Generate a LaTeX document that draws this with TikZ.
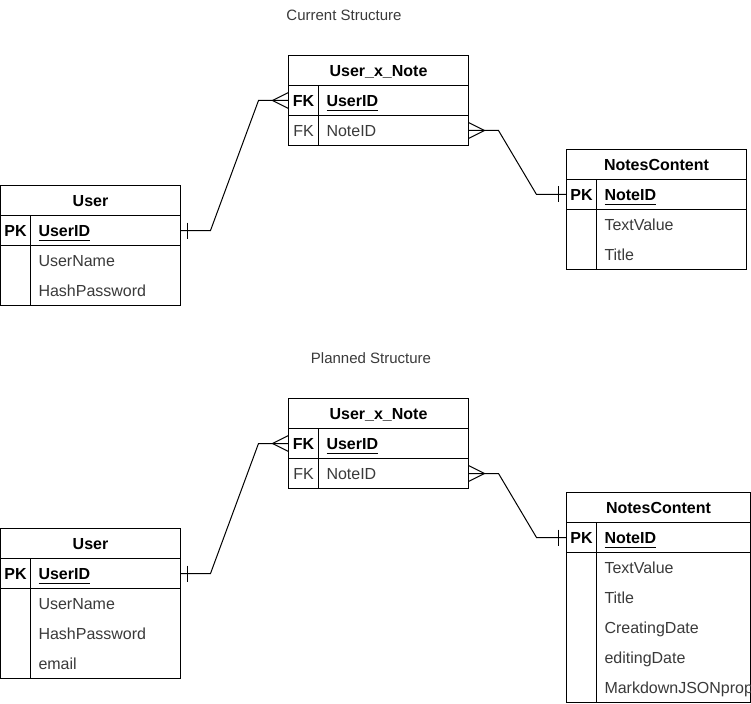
\documentclass[tikz,border=0pt]{standalone}
\usepackage{fontspec}
\setmainfont{Liberation Sans}
\usetikzlibrary{calc}
\definecolor{fieldtxt}{HTML}{3A3A3A}
% underlined key column name
\newcommand{\undl}[1]{\setbox0\hbox{#1}\rlap{\rule[-4.5pt]{\wd0}{1pt}}\box0}

\begin{document}
\begin{tikzpicture}[x=1pt, y=-1pt, line width=1pt,
  every node/.style={inner sep=0pt, outer sep=0pt,
    font=\fontsize{16}{19}\selectfont, text height=11.5pt, text depth=0pt},
  cell/.style={draw, rectangle, anchor=north west, minimum height=30pt, minimum width=180pt},
  hdr/.style={cell, font=\fontsize{16}{19}\selectfont\bfseries},
  keytag/.style={anchor=base, font=\fontsize{16}{19}\selectfont\bfseries},
  fktag/.style={anchor=base, text=fieldtxt},
  keyname/.style={anchor=base west, font=\fontsize{16}{19}\selectfont\bfseries},
  field/.style={anchor=base west, text=fieldtxt},
  heading/.style={anchor=base, text=fieldtxt, font=\fontsize{15}{18}\selectfont},
  onebarout/.pic={\draw (7,-8) -- (7,8);},
  onebarin/.pic={\draw (-8,-8) -- (-8,8);},
  crowin/.pic={\draw (0,-8) -- (-16,0) -- (0,8);},
  crowout/.pic={\draw (0,-8) -- (16,0) -- (0,8);}
]
\fill[white] (0,0) rectangle (751,703);
\useasboundingbox (0,0) rectangle (751,703);

%%%%%%%%%%%%%%%% Current structure %%%%%%%%%%%%%%%%
\node[heading] (t1) at (344,21) {Current Structure};

% User
\node[hdr] (u1h) at (0.5,185.5) {User};
\node[cell] (u1k) at (0.5,215.5) {};
\node[cell, minimum height=60pt] (u1b) at (0.5,245.5) {};
\draw ($(u1k.north west)+(30,0)$) -- ($(u1b.south west)+(30,0)$);
\node[keytag] (u1kt) at (15.5,236.5) {PK};
\node[keyname] (u1kn) at (38.5,236.5) {\undl{UserID}};
\node[field] (u1f1) at (38.5,266.5) {UserName};
\node[field] (u1f2) at (38.5,296.5) {HashPassword};

% User_x_Note
\node[hdr] (x1h) at (288.5,55.5) {User\_x\_Note};
\node[cell] (x1u) at (288.5,85.5) {};
\node[cell] (x1n) at (288.5,115.5) {};
\draw ($(x1u.north west)+(30,0)$) -- ($(x1n.south west)+(30,0)$);
\node[keytag] (x1ut) at (303.5,106.5) {FK};
\node[keyname] (x1un) at (326.5,106.5) {\undl{UserID}};
\node[fktag] (x1nt) at (303.5,136.5) {FK};
\node[field] (x1nn) at (326.5,136.5) {NoteID};

% NotesContent
\node[hdr] (n1h) at (566.5,149.5) {NotesContent};
\node[cell] (n1k) at (566.5,179.5) {};
\node[cell, minimum height=60pt] (n1b) at (566.5,209.5) {};
\draw ($(n1k.north west)+(30,0)$) -- ($(n1b.south west)+(30,0)$);
\node[keytag] (n1kt) at (581.5,200.5) {PK};
\node[keyname] (n1kn) at (604.5,200.5) {\undl{NoteID}};
\node[field] (n1f1) at (604.5,230.5) {TextValue};
\node[field] (n1f2) at (604.5,260.5) {Title};

% relations
\draw (u1k.east) -- ++(30,0) -- ($(x1u.west)+(-30,0)$) -- (x1u.west);
\pic at (u1k.east) {onebarout};
\pic at (x1u.west) {crowin};
\draw (x1n.east) -- ++(30,0) -- ($(n1k.west)+(-30,0)$) -- (n1k.west);
\pic at (x1n.east) {crowout};
\pic at (n1k.west) {onebarin};

%%%%%%%%%%%%%%%% Planned structure %%%%%%%%%%%%%%%%
\node[heading] (t2) at (371,363) {Planned Structure};

% User
\node[hdr] (u2h) at (0.5,528.5) {User};
\node[cell] (u2k) at (0.5,558.5) {};
\node[cell, minimum height=90pt] (u2b) at (0.5,588.5) {};
\draw ($(u2k.north west)+(30,0)$) -- ($(u2b.south west)+(30,0)$);
\node[keytag] (u2kt) at (15.5,579.5) {PK};
\node[keyname] (u2kn) at (38.5,579.5) {\undl{UserID}};
\node[field] (u2f1) at (38.5,609.5) {UserName};
\node[field] (u2f2) at (38.5,639.5) {HashPassword};
\node[field] (u2f3) at (38.5,669.5) {email};

% User_x_Note
\node[hdr] (x2h) at (288.5,398.5) {User\_x\_Note};
\node[cell] (x2u) at (288.5,428.5) {};
\node[cell] (x2n) at (288.5,458.5) {};
\draw ($(x2u.north west)+(30,0)$) -- ($(x2n.south west)+(30,0)$);
\node[keytag] (x2ut) at (303.5,449.5) {FK};
\node[keyname] (x2un) at (326.5,449.5) {\undl{UserID}};
\node[fktag] (x2nt) at (303.5,479.5) {FK};
\node[field] (x2nn) at (326.5,479.5) {NoteID};

% NotesContent
\node[hdr, minimum width=184pt] (n2h) at (566.5,492.5) {NotesContent};
\node[cell, minimum width=184pt] (n2k) at (566.5,522.5) {};
\node[cell, minimum width=184pt, minimum height=150pt] (n2b) at (566.5,552.5) {};
\draw ($(n2k.north west)+(30,0)$) -- ($(n2b.south west)+(30,0)$);
\node[keytag] (n2kt) at (581.5,543.5) {PK};
\node[keyname] (n2kn) at (604.5,543.5) {\undl{NoteID}};
\node[field] (n2f1) at (604.5,573.5) {TextValue};
\node[field] (n2f2) at (604.5,603.5) {Title};
\node[field] (n2f3) at (604.5,633.5) {CreatingDate};
\node[field] (n2f4) at (604.5,663.5) {editingDate};
\node[field] (n2f5) at (604.5,693.5) {MarkdownJSONprop};

% relations
\draw (u2k.east) -- ++(30,0) -- ($(x2u.west)+(-30,0)$) -- (x2u.west);
\pic at (u2k.east) {onebarout};
\pic at (x2u.west) {crowin};
\draw (x2n.east) -- ++(30,0) -- ($(n2k.west)+(-30,0)$) -- (n2k.west);
\pic at (x2n.east) {crowout};
\pic at (n2k.west) {onebarin};
\end{tikzpicture}
\end{document}
